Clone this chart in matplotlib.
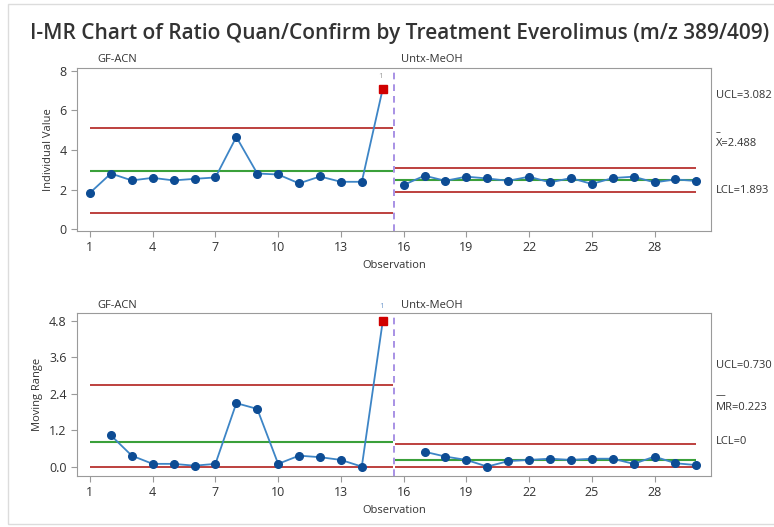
import matplotlib
matplotlib.use("Agg")
import matplotlib.pyplot as plt
from matplotlib.patches import Rectangle

plt.rcParams['font.family'] = ['Open Sans', 'DejaVu Sans']

# Observations and stages
obs_a = list(range(1, 16))     # GF-ACN
obs_b = list(range(16, 31))    # Untx-MeOH
stage_names = ['GF-ACN', 'Untx-MeOH']

# Individual values
ind_a = [1.83, 2.81, 2.46, 2.59, 2.46, 2.54, 2.61, 4.66, 2.81, 2.76,
         2.31, 2.66, 2.39, 2.39, 7.09]
ind_b = [2.23, 2.70, 2.44, 2.65, 2.56, 2.44, 2.65, 2.36, 2.58, 2.28,
         2.58, 2.65, 2.36, 2.51, 2.43]

# Moving ranges (first point of each stage has none)
mr_obs_a = list(range(2, 16))
mr_a = [1.03, 0.36, 0.09, 0.09, 0.03, 0.09, 2.09, 1.90, 0.09, 0.36,
        0.31, 0.22, 0.00, 4.78]
mr_obs_b = list(range(17, 31))
mr_b = [0.49, 0.33, 0.22, 0.00, 0.18, 0.22, 0.26, 0.22, 0.26, 0.26,
        0.09, 0.33, 0.11, 0.05]

# Control limits per stage: (LCL, center, UCL)
i_limits = [(0.80, 2.95, 5.10), (1.893, 2.488, 3.082)]
mr_limits = [(0.0, 0.81, 2.68), (0.0, 0.223, 0.730)]

out_a_i = 15     # point that fails test 1
out_a_mr = 15

W, H = 774, 527
fig = plt.figure(figsize=(W / 100, H / 100), dpi=100)

def fx(px):
    return px / W

def fy(py):
    return 1 - py / H

# light frame around the figure
fig.patches.append(Rectangle((fx(8), fy(524)), 1.0, fy(4) - fy(524),
                             transform=fig.transFigure, fill=False,
                             edgecolor='#dcdcdc', linewidth=1.0))

fig.text(fx(30), fy(33), 'I-MR Chart of Ratio Quan/Confirm by Treatment Everolimus (m/z 389/409)',
         fontsize=15.0, fontweight='semibold', color='#333333', va='center', ha='left')

red = '#b8312f'
green = '#3aa03a'
line_blue = '#3d85c6'
dot_blue = '#0d4c94'
split = 15.55
seg = [(1.0, split - 0.06), (split + 0.06, 30.0)]

def draw_panel(ax, xa, ya, xb, yb, limits, out_x, ylim, yticks, ytl, ylabel):
    for (lo, c, hi), (x0, x1) in zip(limits, seg):
        ax.hlines([lo, hi], x0, x1, color=red, lw=1.3, zorder=2)
        ax.hlines(c, x0, x1, color=green, lw=1.5, zorder=2)
    for xs, ys in [(xa, ya), (xb, yb)]:
        ax.plot(xs, ys, color=line_blue, lw=1.3, zorder=3)
        xs_n = [x for x in xs if x != out_x]
        ys_n = [y for x, y in zip(xs, ys) if x != out_x]
        ax.plot(xs_n, ys_n, 'o', color=dot_blue, ms=5.5, zorder=4)
    oy = ya[xa.index(out_x)]
    ax.plot([out_x], [oy], 's', color='#d00000', ms=5.5, zorder=5)
    ax.axvline(split, color='#9a7fe0', lw=1.2, ls=(0, (4, 3)), zorder=1)
    ax.set_xlim(0.38, 30.7)
    ax.set_ylim(*ylim)
    ax.set_xticks([1, 4, 7, 10, 13, 16, 19, 22, 25, 28])
    ax.set_yticks(yticks)
    ax.set_yticklabels(ytl)
    ax.set_xlabel('Observation', fontsize=8, color='#333333', labelpad=4)
    ax.set_ylabel(ylabel, fontsize=8, color='#333333', labelpad=4)
    for s in ax.spines.values():
        s.set_color('#9a9a9a')
    ax.tick_params(colors='#9a9a9a', labelcolor='#333333', labelsize=9, length=4)

ax1 = fig.add_axes([fx(77), fy(231), fx(711) - fx(77), fy(68) - fy(231)])
draw_panel(ax1, obs_a, ind_a, obs_b, ind_b, i_limits, out_a_i,
           (-0.1, 8.15), [0, 2, 4, 6, 8], ['0', '2', '4', '6', '8'], 'Individual Value')

ax2 = fig.add_axes([fx(77), fy(476), fx(711) - fx(77), fy(313) - fy(476)])
draw_panel(ax2, mr_obs_a, mr_a, mr_obs_b, mr_b, mr_limits, out_a_mr,
           (-0.31, 5.06), [0, 1.2, 2.4, 3.6, 4.8], ['0.0', '1.2', '2.4', '3.6', '4.8'], 'Moving Range')

# stage names above each panel
for top in (60, 305):
    fig.text(fx(97), fy(top), stage_names[0], fontsize=8, color='#333333', va='center')
    fig.text(fx(401), fy(top), stage_names[1], fontsize=8, color='#333333', va='center')

# test-failure flags
fig.text(fx(381), fy(76), '1', fontsize=6, color='#a0a0a0', ha='center', va='center')
fig.text(fx(382), fy(307), '1', fontsize=6, color='#7aa0d0', ha='center', va='center')

# limit labels on the right
lab = dict(fontsize=8, color='#333333', va='center', ha='left')
fig.text(fx(716), fy(95), 'UCL=3.082', **lab)
fig.text(fx(716), fy(133), '–', fontsize=7, color='#333333', va='center', ha='left')
fig.text(fx(716), fy(144), 'X=2.488', **lab)
fig.text(fx(716), fy(190), 'LCL=1.893', **lab)
fig.text(fx(716), fy(366), 'UCL=0.730', **lab)
fig.text(fx(716), fy(396), '—', fontsize=7, color='#333333', va='center', ha='left')
fig.text(fx(716), fy(407), 'MR=0.223', **lab)
fig.text(fx(716), fy(441), 'LCL=0', **lab)

fig.savefig('out.png', dpi=100)
